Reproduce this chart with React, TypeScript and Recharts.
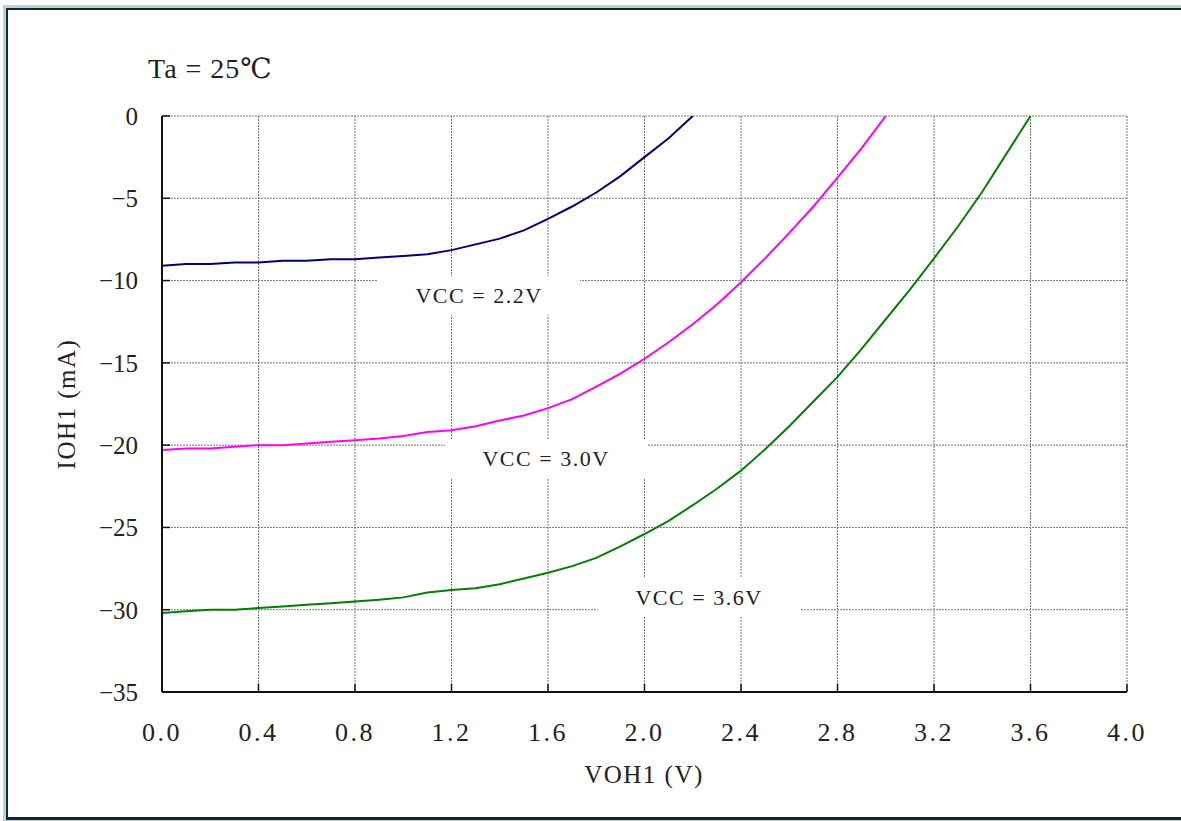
import { LineChart, Line, XAxis, YAxis, CartesianGrid } from 'recharts'

const voltages22 = [0, 0.1, 0.2, 0.3, 0.4, 0.5, 0.6, 0.7, 0.8, 0.9, 1.0, 1.1, 1.2, 1.3, 1.4, 1.5, 1.6, 1.7, 1.8, 1.9, 2.0, 2.1, 2.2]
const currents22 = [-9.1, -9.0, -9.0, -8.9, -8.9, -8.8, -8.8, -8.7, -8.7, -8.6, -8.5, -8.4, -8.15, -7.8, -7.45, -6.95, -6.25, -5.5, -4.65, -3.65, -2.5, -1.35, 0]

const voltages30 = [0, 0.1, 0.2, 0.3, 0.4, 0.5, 0.6, 0.7, 0.8, 0.9, 1.0, 1.1, 1.2, 1.3, 1.4, 1.5, 1.6, 1.7, 1.8, 1.9, 2.0, 2.1, 2.2, 2.3, 2.4, 2.5, 2.6, 2.7, 2.8, 2.9, 3.0]
const currents30 = [-20.3, -20.2, -20.2, -20.1, -20.0, -20.0, -19.9, -19.8, -19.7, -19.6, -19.45, -19.2, -19.1, -18.85, -18.5, -18.2, -17.75, -17.2, -16.45, -15.65, -14.75, -13.75, -12.65, -11.45, -10.1, -8.65, -7.1, -5.5, -3.75, -1.95, 0]

const voltages36 = [0, 0.1, 0.2, 0.3, 0.4, 0.5, 0.6, 0.7, 0.8, 0.9, 1.0, 1.1, 1.2, 1.3, 1.4, 1.5, 1.6, 1.7, 1.8, 1.9, 2.0, 2.1, 2.2, 2.3, 2.4, 2.5, 2.6, 2.7, 2.8, 2.9, 3.0, 3.1, 3.2, 3.3, 3.4, 3.5, 3.6]
const currents36 = [-30.2, -30.1, -30.0, -30.0, -29.9, -29.8, -29.7, -29.6, -29.5, -29.4, -29.25, -28.95, -28.8, -28.7, -28.45, -28.1, -27.75, -27.35, -26.85, -26.15, -25.4, -24.6, -23.65, -22.65, -21.55, -20.25, -18.85, -17.35, -15.85, -14.15, -12.35, -10.55, -8.65, -6.7, -4.6, -2.3, 0]

const xTicks = [0, 0.4, 0.8, 1.2, 1.6, 2.0, 2.4, 2.8, 3.2, 3.6, 4.0]
const yTicks = [0, -5, -10, -15, -20, -25, -30, -35]

const toPoints = (v: number[], i: number[]) => v.map((x, k) => ({ v: x, i: i[k] }))

const series = [
  { name: 'VCC = 2.2V', color: '#000080', data: toPoints(voltages22, currents22) },
  { name: 'VCC = 3.0V', color: '#ff00ff', data: toPoints(voltages30, currents30) },
  { name: 'VCC = 3.6V', color: '#008000', data: toPoints(voltages36, currents36) },
]

const FONT = '"Liberation Serif", "DejaVu Serif", serif'

// label boxes (white background hides the grid behind them)
const labelBoxes = [
  { text: 'VCC = 2.2V', left: 378, top: 276, width: 202, height: 39 },
  { text: 'VCC = 3.0V', left: 445, top: 440, width: 202, height: 38 },
  { text: 'VCC = 3.6V', left: 598, top: 578, width: 202, height: 39 },
]

export default function App() {
  return (
    <div
      style={{
        position: 'absolute',
        left: 0,
        top: 0,
        width: 1181,
        height: 821,
        overflow: 'hidden',
        background: '#fff',
        fontFamily: FONT,
      }}
    >
      <div style={{ position: 'absolute', left: 3, top: 5, width: 1200, height: 816, background: '#aad8dc' }} />
      <div
        style={{
          position: 'absolute',
          left: 6,
          top: 8,
          width: 1200,
          height: 807,
          background: '#fff',
          borderLeft: '2px solid #222',
          borderTop: '2px solid #222',
          borderBottom: '3px solid #222',
        }}
      />
      <div style={{ position: 'absolute', left: 0, top: 0 }}>
        <LineChart width={1181} height={821} margin={{ top: 116, right: 54, bottom: 69, left: 102 }}>
          <CartesianGrid stroke="#777" strokeDasharray="2 1" strokeWidth={1} />
          <XAxis
            type="number"
            dataKey="v"
            domain={[0, 4]}
            ticks={xTicks}
            allowDataOverflow
            height={60}
            tickSize={-8}
            tickMargin={39}
            tickFormatter={(x: number) => x.toFixed(1)}
            tick={{ fill: '#222', fontSize: 26, fontFamily: FONT, letterSpacing: 2.5 }}
            axisLine={{ stroke: '#111', strokeWidth: 2 }}
            tickLine={{ stroke: '#111', strokeWidth: 1.5 }}
          />
          <YAxis
            type="number"
            dataKey="i"
            domain={[-35, 0]}
            ticks={yTicks}
            allowDataOverflow
            width={60}
            tickSize={-8}
            tickMargin={32}
            tickFormatter={(y: number) => (y < 0 ? '\u2212' + Math.abs(y) : String(y))}
            tick={{ fill: '#222', fontSize: 25, fontFamily: FONT }}
            axisLine={{ stroke: '#111', strokeWidth: 2 }}
            tickLine={{ stroke: '#111', strokeWidth: 1.5 }}
          />
          {series.map((s) => (
            <Line
              key={s.name}
              data={s.data}
              dataKey="i"
              type="linear"
              stroke={s.color}
              strokeWidth={2}
              dot={false}
              isAnimationActive={false}
            />
          ))}
        </LineChart>
      </div>
      {labelBoxes.map((b) => (
        <div
          key={b.text}
          style={{
            position: 'absolute',
            left: b.left,
            top: b.top,
            width: b.width,
            height: b.height,
            background: '#fff',
            display: 'flex',
            alignItems: 'center',
            justifyContent: 'center',
            fontSize: 22,
            letterSpacing: 1.5,
            color: '#222',
            whiteSpace: 'pre',
          }}
        >
          {b.text}
        </div>
      ))}
      <div style={{ position: 'absolute', left: 148, top: 52, fontSize: 28, color: '#222', letterSpacing: 1, whiteSpace: 'pre' }}>
        Ta = 25℃
      </div>
      <div
        style={{
          position: 'absolute',
          left: 544,
          top: 761,
          width: 200,
          textAlign: 'center',
          fontSize: 25,
          color: '#222',
          letterSpacing: 1.5,
          whiteSpace: 'pre',
        }}
      >
        VOH1 (V)
      </div>
      <div
        style={{
          position: 'absolute',
          left: 67,
          top: 404,
          transform: 'translate(-50%, -50%) rotate(-90deg)',
          fontSize: 25,
          color: '#222',
          letterSpacing: 1.5,
          whiteSpace: 'pre',
        }}
      >
        IOH1 (mA)
      </div>
    </div>
  )
}
